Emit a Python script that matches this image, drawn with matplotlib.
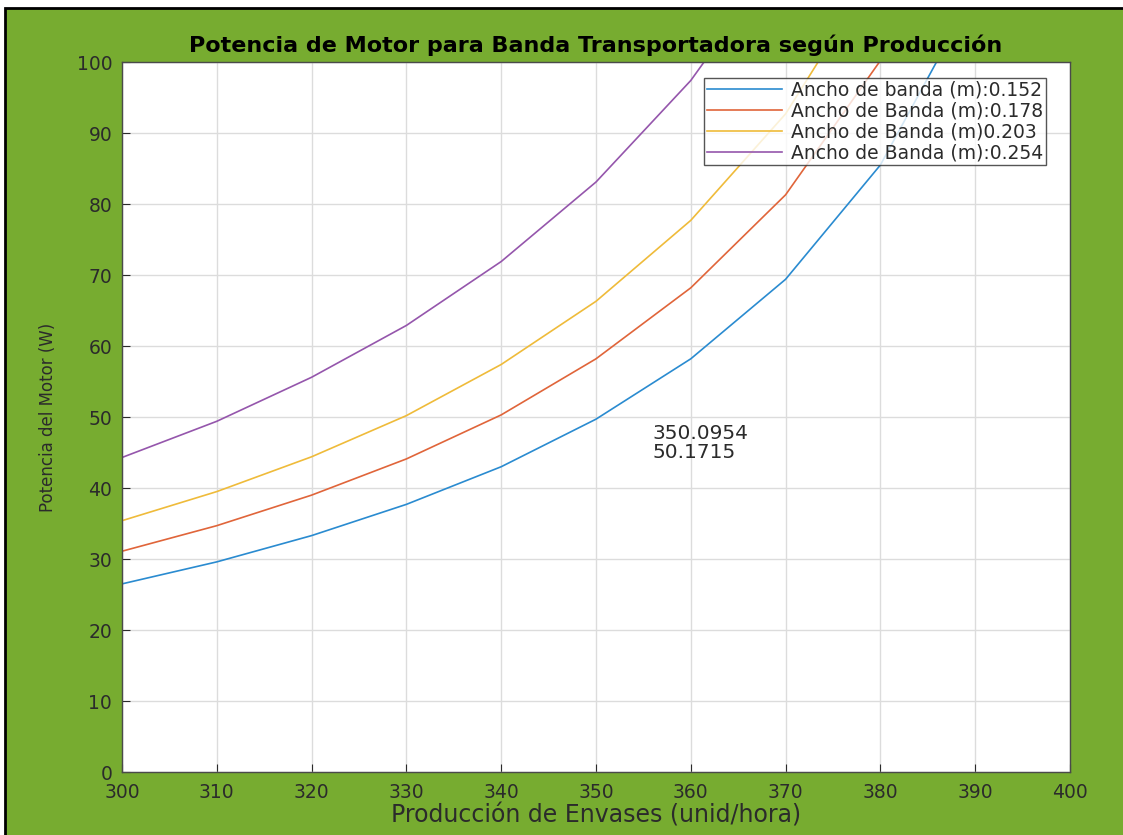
import matplotlib
matplotlib.use("Agg")
import matplotlib.pyplot as plt
from matplotlib.patches import Rectangle

# Datos
produccion = [300, 310, 320, 330, 340, 350, 360, 370, 380, 390, 400]
p_0152 = [26.5, 29.6, 33.3, 37.7, 43.0, 49.7, 58.2, 69.4, 85.5, 110.0, 151.0]
p_0178 = [31.1, 34.7, 39.0, 44.1, 50.3, 58.2, 68.2, 81.3, 100.2, 129.0, 177.0]
p_0203 = [35.4, 39.5, 44.4, 50.2, 57.4, 66.3, 77.7, 92.7, 114.0, 147.0, 201.0]
p_0254 = [44.3, 49.4, 55.6, 62.9, 71.9, 83.1, 97.4, 116.0, 143.0, 184.0, 252.0]
etiquetas = ["Ancho de banda (m):0.152", "Ancho de Banda (m):0.178",
             "Ancho de Banda (m)0.203", "Ancho de Banda (m):0.254"]
colores = ["#2a8bd0", "#e0653a", "#efbb3a", "#9556ac"]
dato_x, dato_y = 350.0954, 50.1715

plt.rcParams["font.family"] = ["DejaVu Sans"]

verde = "#77AC30"
gris = "#2b2b2b"

fig = plt.figure(figsize=(11.23, 8.35), dpi=100, facecolor="white")
fig.patches.append(Rectangle((0.0045, -0.01), 1.0, 1 - 0.0096 + 0.01,
                             transform=fig.transFigure, facecolor=verde,
                             edgecolor="black", linewidth=2, zorder=-10))
ax = fig.add_axes([0.1086, 0.0754, 0.8442, 0.8503])

for serie, lab, c in zip([p_0152, p_0178, p_0203, p_0254], etiquetas, colores):
    ax.plot(produccion, serie, color=c, linewidth=1.2, label=lab)

ax.set_xlim(300, 400)
ax.set_ylim(0, 100)
ax.set_xticks(range(300, 401, 10))
ax.set_yticks(range(0, 101, 10))
ax.grid(True, color="#dcdcdc", linewidth=1)
ax.set_axisbelow(True)
ax.tick_params(direction="in", length=6, colors=gris, labelsize=13.5)
ax.tick_params(axis="y", pad=7)
ax.tick_params(axis="x", pad=8)
for s in ax.spines.values():
    s.set_color("#4a4a4a")
    s.set_linewidth(1)

ax.set_title("Potencia de Motor para Banda Transportadora según Producción",
             fontsize=16, fontweight="bold", pad=7)
ax.set_xlabel("Producción de Envases (unid/hora)", fontsize=17, color=gris, labelpad=1)
ax.set_ylabel("Potencia del Motor (W)", fontsize=12, color=gris, labelpad=14)

ax.text(356.0, 46.3, f"{dato_x:.4f}\n{dato_y:.4f}", fontsize=14.5, color=gris,
        va="center", ha="left", linespacing=1.0)

leg = ax.legend(loc="upper right", bbox_to_anchor=(0.9314, 0.9066),
                bbox_transform=fig.transFigure, fontsize=13.5, frameon=True,
                fancybox=False, borderaxespad=0, handlelength=4.0,
                borderpad=0.15, labelspacing=0.1, handletextpad=0.5,
                labelcolor=gris)
leg.get_frame().set_edgecolor(gris)
leg.get_frame().set_linewidth(1)

fig.savefig("out.png", dpi=100, facecolor=fig.get_facecolor())
